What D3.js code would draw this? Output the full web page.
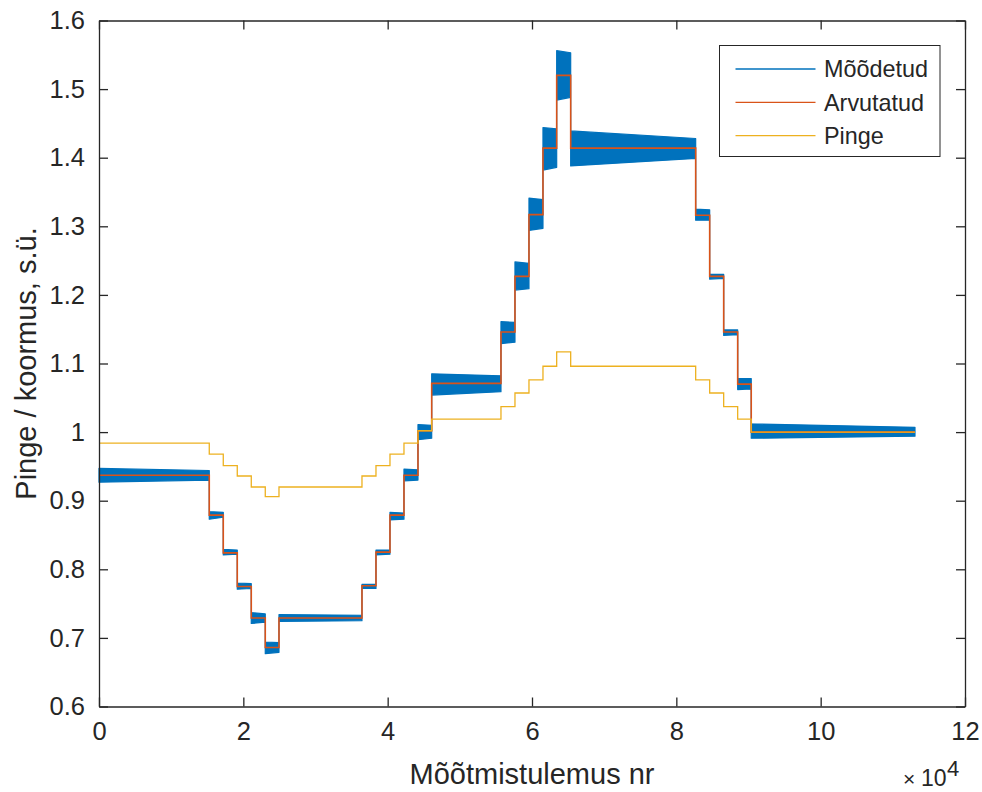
<!DOCTYPE html>
<html>
<head>
<meta charset="utf-8">
<script src="https://cdn.jsdelivr.net/npm/d3@7"></script>
<style>
  html, body { margin: 0; padding: 0; background: #fff; }
  svg { display: block; font-family: "Liberation Sans", Arial, Helvetica, sans-serif; }
</style>
</head>
<body>
<svg id="chart" width="982" height="792"></svg>
<script>
// Sample numbers where each load/voltage step begins and ends
const stepEdges = [0, 15280, 17220, 19160, 21100, 23040, 24940, 36440, 38380, 40320,
  42260, 44200, 46100, 55700, 57640, 59580, 61520, 63420, 65360, 82680,
  84620, 86560, 88500, 90380, 113070];

// Computed load (Arvutatud) on each step
const calcLevels = [0.937, 0.879, 0.824, 0.775, 0.729, 0.686, 0.729, 0.776, 0.825, 0.879,
  0.937, 1.002, 1.071, 1.146, 1.227, 1.317, 1.414, 1.520, 1.414, 1.316,
  1.227, 1.146, 1.070, 1.000];

// Supply voltage (Pinge) on each step
const voltLevels = [0.984, 0.968, 0.951, 0.936, 0.920, 0.906, 0.920, 0.936, 0.951, 0.968,
  0.984, 1.002, 1.019, 1.037, 1.057, 1.076, 1.096, 1.117, 1.096, 1.076,
  1.057, 1.037, 1.019, 1.000];

// Measured load (Mõõdetud) envelope on each step: upper/lower at step start and end
const measHiStart = [0.947, 0.884, 0.829, 0.780, 0.737, 0.694, 0.734, 0.778, 0.828, 0.883,
  0.946, 1.011, 1.085, 1.161, 1.248, 1.341, 1.444, 1.556, 1.439, 1.325,
  1.230, 1.149, 1.078, 1.012];
const measLoStart = [0.927, 0.873, 0.821, 0.771, 0.721, 0.677, 0.724, 0.772, 0.821, 0.872,
  0.929, 0.989, 1.054, 1.129, 1.207, 1.294, 1.382, 1.484, 1.388, 1.309,
  1.223, 1.141, 1.062, 0.991];
const measHiEnd = [0.944, 0.883, 0.828, 0.779, 0.735, 0.693, 0.733, 0.778, 0.828, 0.882,
  0.945, 1.010, 1.082, 1.160, 1.246, 1.339, 1.442, 1.553, 1.428, 1.324,
  1.230, 1.149, 1.078, 1.007];
const measLoEnd = [0.930, 0.876, 0.822, 0.772, 0.723, 0.679, 0.725, 0.772, 0.822, 0.873,
  0.930, 0.991, 1.059, 1.131, 1.209, 1.297, 1.386, 1.488, 1.399, 1.309,
  1.224, 1.142, 1.063, 0.994];

const xTicks = [0, 20000, 40000, 60000, 80000, 100000, 120000];
const yTicks = [0.6, 0.7, 0.8, 0.9, 1.0, 1.1, 1.2, 1.3, 1.4, 1.5, 1.6];

const seriesNames = ["Mõõdetud", "Arvutatud", "Pinge"];
const seriesColors = ["#0072BD", "#D95319", "#EDB120"];

const svg = d3.select("#chart");
const margin = { left: 99, top: 20.5, right: 17, bottom: 85.5 };
const W = 982 - margin.left - margin.right;
const H = 792 - margin.top - margin.bottom;
const ink = "#262626";

const x = d3.scaleLinear().domain([0, 120000]).range([0, W]);
const y = d3.scaleLinear().domain([0.6, 1.6]).range([H, 0]);

const g = svg.append("g").attr("transform", `translate(${margin.left},${margin.top})`);

// Per-step records built from the arrays above
const steps = calcLevels.map((c, i) => ({
  x0: stepEdges[i], x1: stepEdges[i + 1],
  calc: c, volt: voltLevels[i],
  hi0: measHiStart[i], lo0: measLoStart[i], hi1: measHiEnd[i], lo1: measLoEnd[i]
}));

// Measured band: dense oscillating record shown as its envelope
const bandPts = steps.flatMap(s => [
  { x: s.x0, hi: s.hi0, lo: s.lo0 },
  { x: s.x1, hi: s.hi1, lo: s.lo1 }
]);
const band = d3.area().x(d => x(d.x)).y0(d => y(d.lo)).y1(d => y(d.hi));
g.append("path").datum(bandPts)
  .attr("d", band)
  .attr("fill", seriesColors[0])
  .attr("stroke", seriesColors[0])
  .attr("stroke-width", 1.2)
  .attr("stroke-linejoin", "round");

// Step lines for computed load and voltage
const stepPts = key => steps.flatMap(s => [{ x: s.x0, v: s[key] }, { x: s.x1, v: s[key] }]);
const line = d3.line().x(d => x(d.x)).y(d => y(d.v));

g.append("path").datum(stepPts("calc"))
  .attr("d", line).attr("fill", "none")
  .attr("stroke", seriesColors[1]).attr("stroke-width", 1.6);

g.append("path").datum(stepPts("volt"))
  .attr("d", line).attr("fill", "none")
  .attr("stroke", seriesColors[2]).attr("stroke-width", 1.3);

// Axes with box on all four sides, ticks inward
const tickLen = 9;
const xAxis = g.append("g").attr("transform", `translate(0,${H})`)
  .call(d3.axisBottom(x).tickValues(xTicks).tickSizeInner(-tickLen).tickSizeOuter(0)
    .tickPadding(15).tickFormat(d => d3.format("d")(d / 10000)));
const xAxisTop = g.append("g")
  .call(d3.axisTop(x).tickValues(xTicks).tickSizeInner(-tickLen).tickSizeOuter(0).tickFormat(""));
const yAxis = g.append("g")
  .call(d3.axisLeft(y).tickValues(yTicks).tickSizeInner(-tickLen).tickSizeOuter(0)
    .tickPadding(14).tickFormat(d => d === 1 ? "1" : d3.format(".1f")(d)));
const yAxisRight = g.append("g").attr("transform", `translate(${W},0)`)
  .call(d3.axisRight(y).tickValues(yTicks).tickSizeInner(-tickLen).tickSizeOuter(0).tickFormat(""));

[xAxis, xAxisTop, yAxis, yAxisRight].forEach(a => {
  a.select(".domain").attr("stroke", ink).attr("stroke-width", 1.3);
  a.selectAll(".tick line").attr("stroke", ink).attr("stroke-width", 1.3);
  a.selectAll(".tick text").attr("fill", ink).style("font-size", "25.5px")
    .style("font-family", "'Liberation Sans', Arial, sans-serif");
});
xAxis.selectAll(".tick text").attr("dy", "0.71em");

// Axis titles
svg.append("text")
  .attr("x", margin.left + W / 2).attr("y", 784)
  .attr("text-anchor", "middle").attr("fill", ink).style("font-size", "29px")
  .text("Mõõtmistulemus nr");

svg.append("text")
  .attr("transform", `translate(36,${margin.top + H / 2}) rotate(-90)`)
  .attr("text-anchor", "middle").attr("fill", ink).style("font-size", "29px")
  .text("Pinge / koormus, s.ü.");

// Exponent multiplier for the x axis
const mult = svg.append("g").attr("fill", ink);
mult.append("text").attr("x", 903).attr("y", 786).style("font-size", "21px").text("×");
mult.append("text").attr("x", 921).attr("y", 786).style("font-size", "23px").text("10");
mult.append("text").attr("x", 947).attr("y", 776).style("font-size", "22px").text("4");

// Legend
const lg = svg.append("g").attr("transform", "translate(719.5,45.5)");
lg.append("rect").attr("width", 220.5).attr("height", 111)
  .attr("fill", "#fff").attr("stroke", ink).attr("stroke-width", 1);
seriesNames.forEach((name, i) => {
  const yy = 23.5 + i * 33.3;
  lg.append("line").attr("x1", 16).attr("x2", 96).attr("y1", yy).attr("y2", yy)
    .attr("stroke", seriesColors[i]).attr("stroke-width", 1.3);
  lg.append("text").attr("x", 104.5).attr("y", yy).attr("dy", "0.36em")
    .attr("fill", ink).style("font-size", "23.4px").text(name);
});
</script>
</body>
</html>
